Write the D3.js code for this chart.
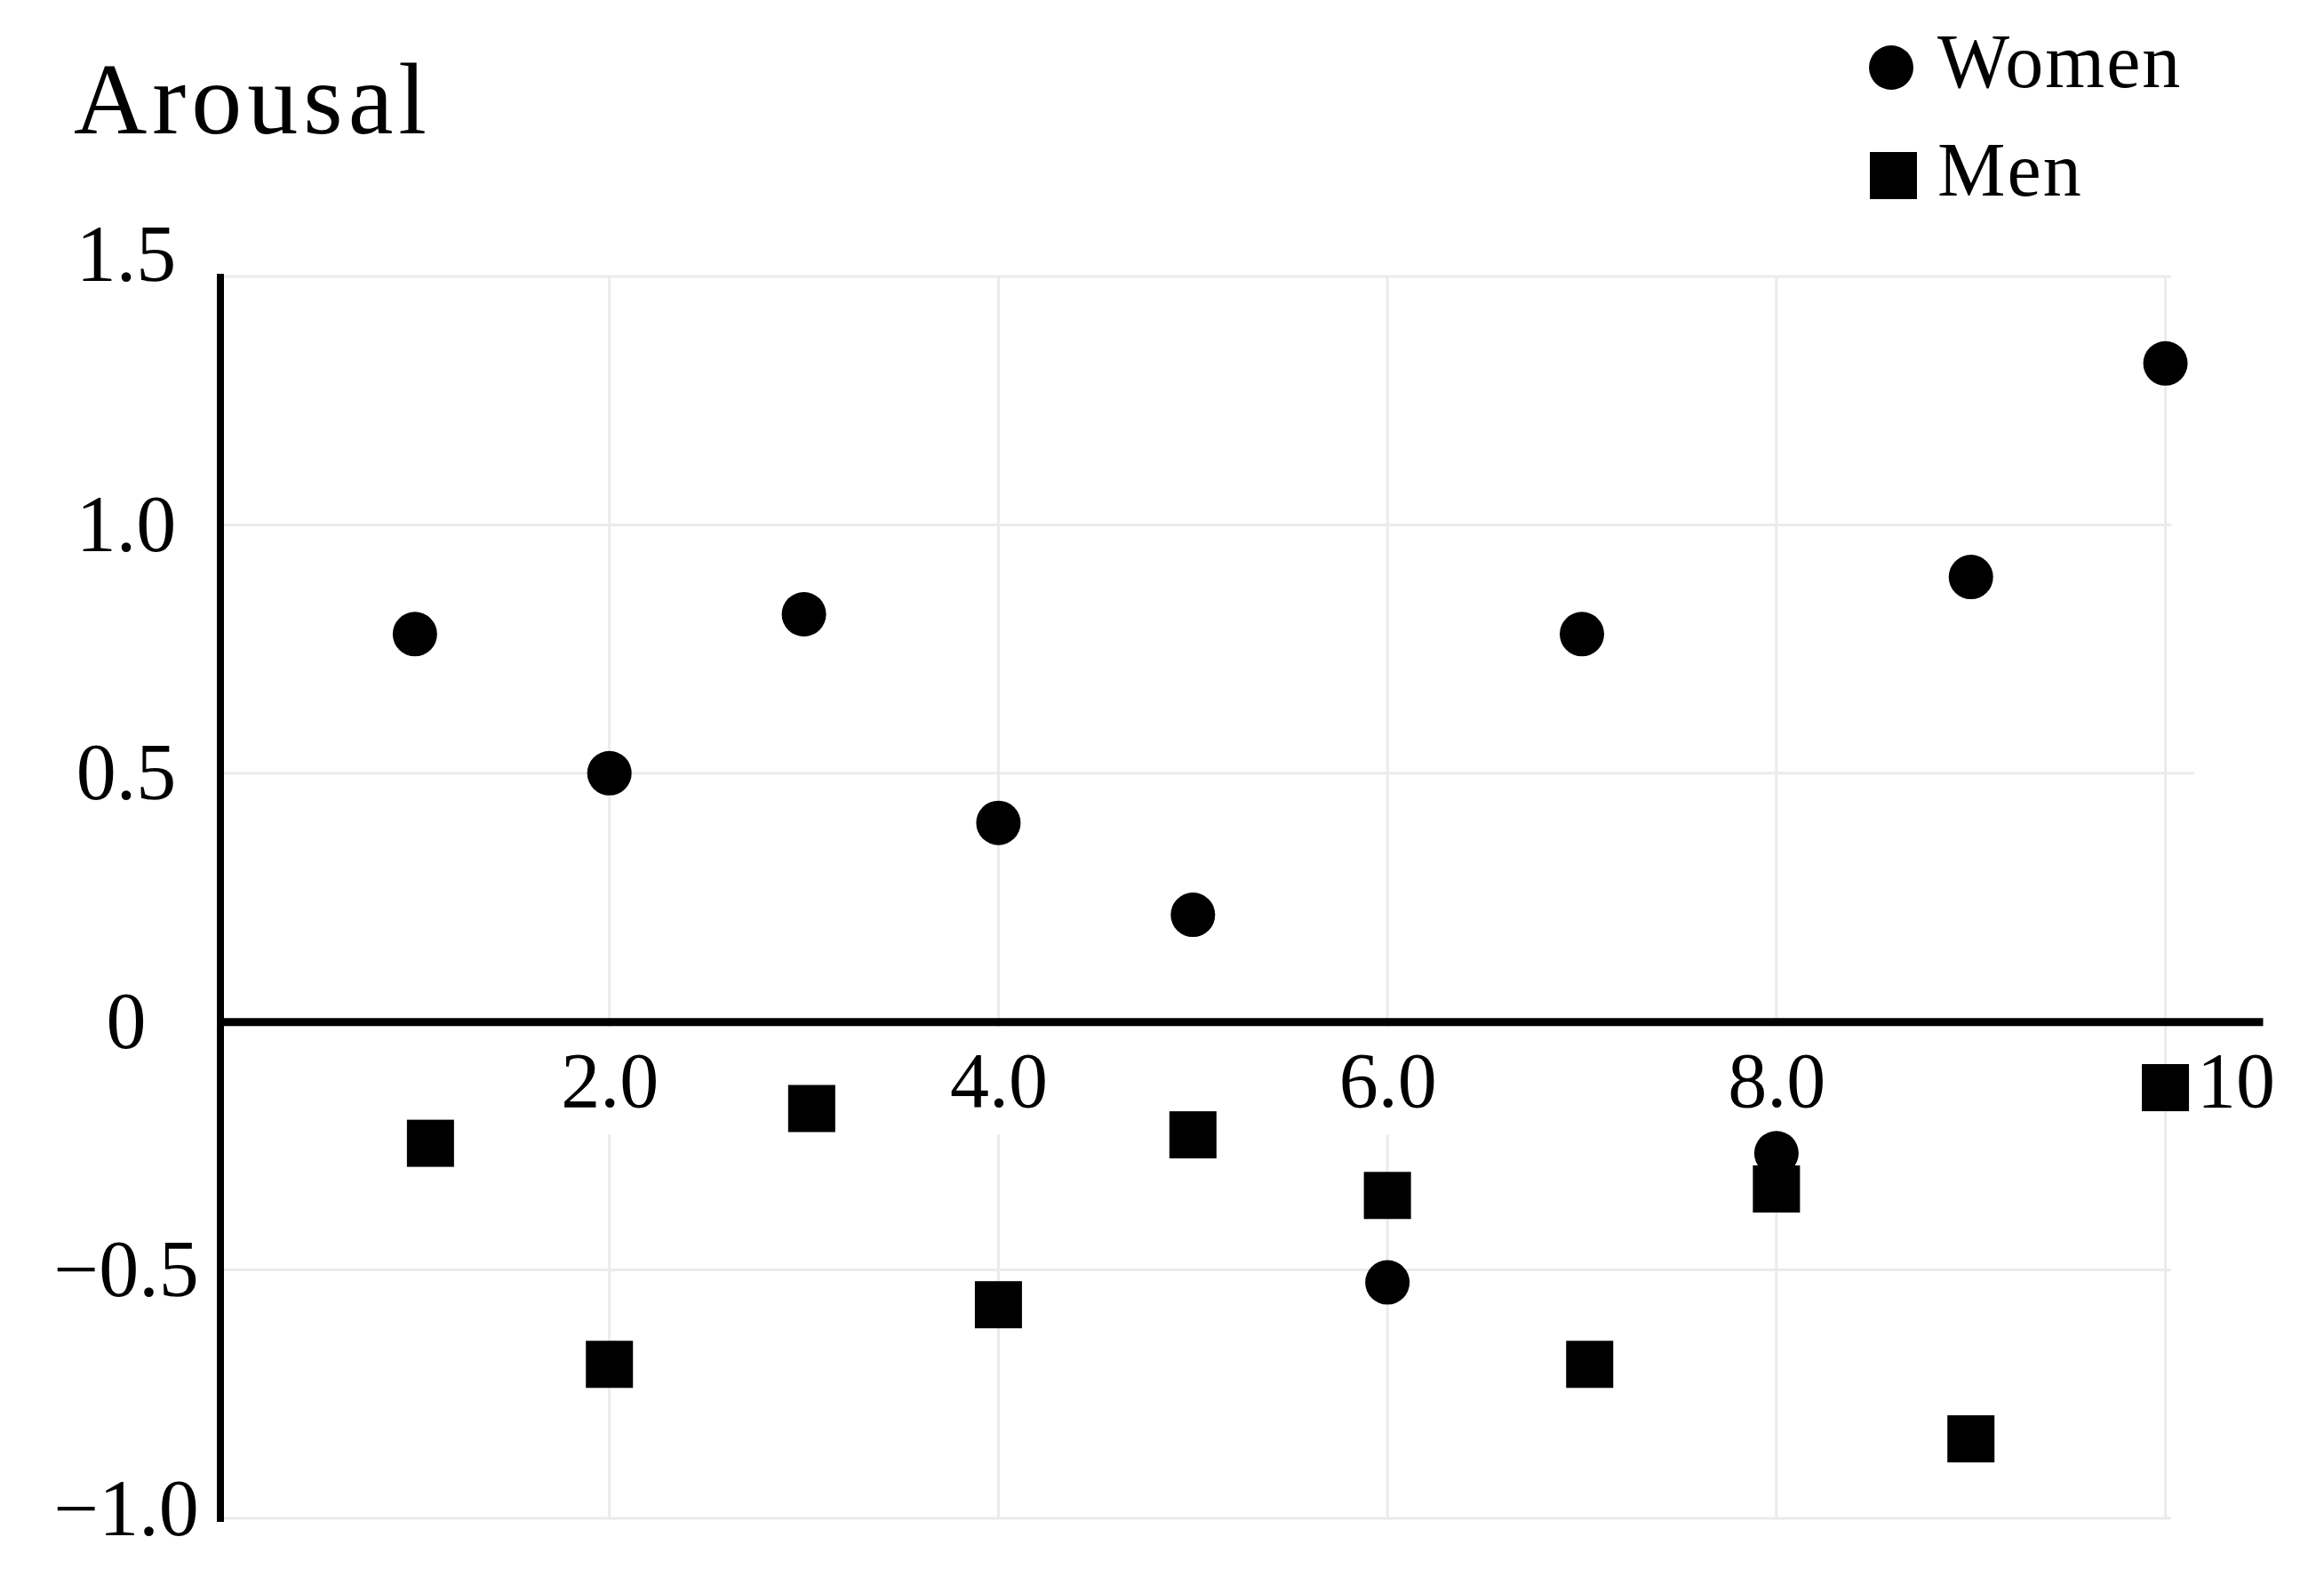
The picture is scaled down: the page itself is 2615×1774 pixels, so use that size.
<!DOCTYPE html>
<html>
<head>
<meta charset="utf-8">
<script src="https://cdn.jsdelivr.net/npm/d3@7"></script>
<style>
  body { margin: 0; background: #fff; }
  svg text { font-family: "Palatino Linotype", "Book Antiqua", Palatino, "Liberation Serif", serif; fill: #000; }
</style>
</head>
<body>
<svg></svg>
<script>
// x position of each point (1..10) and arousal score
var womenX = [1, 2, 3, 4, 5, 6, 7, 8, 9, 10]
var womenY = [0.78, 0.50, 0.82, 0.40, 0.215, -0.525, 0.78, -0.265, 0.895, 1.325]
var menX = [1.08, 2, 3.04, 4, 5, 6, 7.04, 8, 9, 10]
var menY = [-0.245, -0.69, -0.175, -0.57, -0.228, -0.35, -0.69, -0.337, -0.84, -0.133]

var xTicks = [2, 4, 6, 8, 10]
var xTickLabels = ["2.0", "4.0", "6.0", "8.0", "10"]
var yTicks = [-1, -0.5, 0, 0.5, 1, 1.5]
var yTickLabels = ["\u22121.0", "\u22120.5", "0", "0.5", "1.0", "1.5"]

var seriesNames = ["Women", "Men"]

var screen = {width: 2615, height: 1774}

var svg = d3.select("svg")
  .attr("width", screen.width)
  .attr("height", screen.height)

var xScale = d3.scaleLinear()
  .domain([0, 10.5])
  .range([248, 2546])

var yScale = d3.scaleLinear()
  .domain([-1, 1.5])
  .range([1708, 311])

// gridlines
var grid = svg.append("g").attr("class", "grid")
grid.selectAll("line.h")
  .data(yTicks.filter(function(d){ return d != 0 }))
  .enter()
  .append("line")
  .attr("x1", xScale(0))
  .attr("x2", function(d){ return d == 0.5 ? xScale(10.15) : xScale(10.03) })
  .attr("y1", function(d){ return yScale(d) })
  .attr("y2", function(d){ return yScale(d) })
  .attr("stroke", "#ebebeb")
  .attr("stroke-width", 3)

grid.selectAll("line.v")
  .data(xTicks)
  .enter()
  .append("line")
  .attr("x1", function(d){ return xScale(d) })
  .attr("x2", function(d){ return xScale(d) })
  .attr("y1", yScale(1.5))
  .attr("y2", yScale(-1))
  .attr("stroke", "#ebebeb")
  .attr("stroke-width", 3)

// x axis
var xAxis = d3.axisBottom(xScale)
  .tickValues(xTicks)
  .tickFormat(function(d, i){ return xTickLabels[i] })
  .tickSize(0)
  .tickPadding(0)

var xg = svg.append("g").attr("class", "xAxis")
  .attr("transform", "translate(0," + yScale(0) + ")")
  .call(xAxis)

xg.selectAll(".tick text")
  .attr("y", 96)
  .attr("dy", 0)
  .attr("dx", function(d){ return d == 10 ? 79 : 0 })
  .attr("font-size", 88)
  .attr("font-family", null)

// white patches that break the gridlines behind the labels
xg.selectAll(".tick").each(function(){
  var t = d3.select(this).select("text")
  var b = t.node().getBBox()
  var dx = +t.attr("dx")
  d3.select(this).insert("rect", "text")
    .attr("x", b.x + dx - 12)
    .attr("y", b.y - 12)
    .attr("width", b.width + 24)
    .attr("height", b.height + 24)
    .attr("fill", "#fff")
})

xg.select(".domain")
  .attr("stroke", "#000")
  .attr("stroke-width", 9)
  .raise()

// y axis
var yAxis = d3.axisLeft(yScale)
  .tickValues(yTicks)
  .tickFormat(function(d, i){ return yTickLabels[i] })
  .tickSize(0)
  .tickPadding(0)

var yg = svg.append("g").attr("class", "yAxis")
  .attr("transform", "translate(" + xScale(0) + ",0)")
  .call(yAxis)

yg.select(".domain")
  .attr("d", "M0," + (yScale(-1) + 4) + "V" + (yScale(1.5) - 3))
  .attr("stroke", "#000")
  .attr("stroke-width", 8)

yg.selectAll(".tick text")
  .attr("x", 142 - xScale(0))
  .attr("text-anchor", "middle")
  .attr("dy", function(d){ return d == 1.5 ? "0.05em" : (d == -1 ? "0.2em" : "0.32em") })
  .attr("font-size", 90)
  .attr("font-family", null)

// points
svg.selectAll("circle.women")
  .data(womenY)
  .enter()
  .append("circle")
  .attr("class", "women")
  .attr("cx", function(d, i){ return xScale(womenX[i]) })
  .attr("cy", function(d){ return yScale(d) })
  .attr("r", 25)
  .attr("fill", "#000")

svg.selectAll("rect.men")
  .data(menY)
  .enter()
  .append("rect")
  .attr("class", "men")
  .attr("x", function(d, i){ return xScale(menX[i]) - 26.5 })
  .attr("y", function(d){ return yScale(d) - 26.5 })
  .attr("width", 53)
  .attr("height", 53)
  .attr("fill", "#000")

// title
svg.append("text")
  .attr("x", 83)
  .attr("y", 150)
  .attr("font-size", 114)
  .attr("letter-spacing", 6)
  .text("Arousal")

// legend
var legend = svg.append("g").attr("class", "legend")
legend.append("circle")
  .attr("cx", 2128)
  .attr("cy", 76)
  .attr("r", 25)
legend.append("rect")
  .attr("x", 2104)
  .attr("y", 171)
  .attr("width", 53)
  .attr("height", 53)
legend.selectAll("text")
  .data(seriesNames)
  .enter()
  .append("text")
  .attr("x", 2180)
  .attr("y", function(d, i){ return i == 0 ? 98 : 220 })
  .attr("font-size", 86)
  .attr("letter-spacing", 2)
  .text(function(d){ return d })
</script>
</body>
</html>
